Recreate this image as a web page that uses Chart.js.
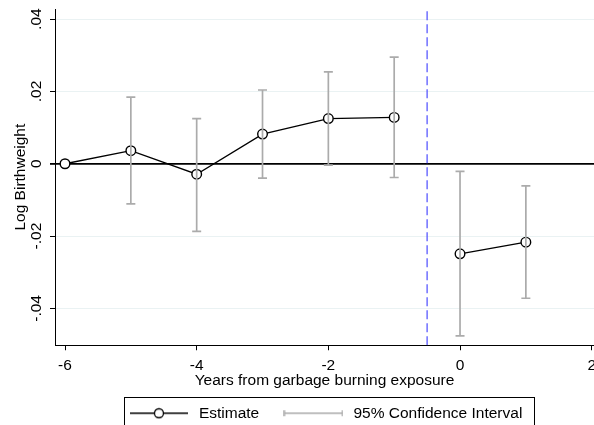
<!DOCTYPE html>
<html>
<head>
<meta charset="utf-8">
<script src="https://cdn.jsdelivr.net/npm/chart.js@4.4.1/dist/chart.umd.min.js"></script>
<style>
  html, body { margin: 0; padding: 0; background: #fff; overflow: hidden; }
  #contenedor { width: 594px; height: 431px; }
</style>
</head>
<body>
<div id="contenedor"><canvas id="grafico"></canvas></div>
<script>
// Datos
const anios = [-6, -5, -4, -3, -2, -1, 0, 1];
const estimacion = [0, 0.0036, -0.0029, 0.0082, 0.0125, 0.0128, -0.0249, -0.0217];
const ciInferior = [null, -0.0111, -0.0187, -0.0040, -0.0004, -0.0038, -0.0476, -0.0372];
const ciSuperior = [null, 0.0184, 0.0125, 0.0204, 0.0254, 0.0295, -0.0021, -0.0061];
const xTicks = [-6, -4, -2, 0, 2];
const yTicks = [-0.04, -0.02, 0, 0.02, 0.04];
const yEtiquetas = ['-.04', '-.02', '0', '.02', '.04'];
const anioEvento = -0.5;

const yMin = -0.0502, yMax = 0.0428;
const gris = '#ababab';

Chart.defaults.font.family = 'Liberation Sans, Arial, sans-serif';
Chart.defaults.font.size = 15.5;
Chart.defaults.color = '#000';

// Serie de estimaciones, cortada en el año del evento
const puntosEstimacion = [];
anios.forEach((a, i) => {
    if (i > 0 && anios[i - 1] < anioEvento && a > anioEvento) {
        puntosEstimacion.push({ x: anioEvento, y: null });
    }
    puntosEstimacion.push({ x: a, y: estimacion[i] });
});

// Intervalos de confianza: un segmento por año
const puntosCI = [];
anios.forEach((a, i) => {
    if (ciInferior[i] === null) return;
    puntosCI.push({ x: a, y: ciInferior[i] });
    puntosCI.push({ x: a, y: ciSuperior[i] });
    puntosCI.push({ x: a, y: null });
});

// Iconos de la leyenda
function iconoEstimacion() {
    const c = document.createElement('canvas');
    c.width = 58; c.height = 12;
    const ctx = c.getContext('2d');
    ctx.strokeStyle = '#000';
    ctx.lineWidth = 1.3;
    ctx.beginPath(); ctx.moveTo(0, 6); ctx.lineTo(58, 6); ctx.stroke();
    ctx.beginPath(); ctx.arc(29, 6, 4.5, 0, Math.PI * 2);
    ctx.fillStyle = '#fff'; ctx.fill(); ctx.stroke();
    return c;
}

function iconoCI() {
    const c = document.createElement('canvas');
    c.width = 60; c.height = 12;
    const ctx = c.getContext('2d');
    ctx.strokeStyle = gris;
    ctx.lineWidth = 1.5;
    ctx.beginPath();
    ctx.moveTo(1, 6); ctx.lineTo(59, 6);
    ctx.moveTo(1, 3); ctx.lineTo(1, 9);
    ctx.moveTo(59, 3); ctx.lineTo(59, 9);
    ctx.stroke();
    return c;
}

// Marco negro alrededor de la leyenda
const marcoLeyenda = {
    id: 'marcoLeyenda',
    afterDraw(chart) {
        const cajas = chart.legend.legendHitBoxes;
        if (!cajas || !cajas.length) return;
        const primero = cajas[0];
        const ultimo = cajas[cajas.length - 1];
        const izq = Math.round(primero.left - 3) + 0.5;
        const der = Math.round(ultimo.left + ultimo.width + 12) + 0.5;
        const arriba = Math.round(primero.top - 8.5) + 0.5;
        const ctx = chart.ctx;
        ctx.save();
        ctx.strokeStyle = '#000';
        ctx.lineWidth = 1;
        ctx.strokeRect(izq, arriba, der - izq, 60);
        ctx.restore();
    }
};

new Chart(document.getElementById('grafico'), {
    type: 'line',
    data: {
        datasets: [{
            label: '95% Confidence Interval',
            data: puntosCI,
            borderColor: gris,
            borderWidth: 1.7,
            pointStyle: 'line',
            pointRadius: 4.5,
            pointBorderColor: gris,
            pointBorderWidth: 1.7,
            spanGaps: false
        }, {
            label: 'Estimate',
            data: puntosEstimacion,
            borderColor: '#000',
            borderWidth: 1.3,
            pointRadius: 4.8,
            pointBackgroundColor: '#fff',
            pointBorderColor: '#000',
            pointBorderWidth: 1.4,
            spanGaps: false
        }, {
            label: 'evento',
            data: [{ x: anioEvento, y: yMin }, { x: anioEvento, y: yMax }],
            borderColor: '#4a4aff',
            borderWidth: 1.2,
            borderDash: [9, 4],
            pointRadius: 0
        }]
    },
    options: {
        responsive: true,
        maintainAspectRatio: false,
        animation: false,
        events: [],
        layout: { autoPadding: false, padding: { left: 10, top: 9, right: 0, bottom: 0 } },
        scales: {
            x: {
                type: 'linear',
                min: -6.152,
                max: 2.035,
                afterBuildTicks: s => { s.ticks = xTicks.map(v => ({ value: v })); },
                afterFit: s => { s.height = 38.25; s.paddingLeft = 0; s.paddingRight = 0; },
                ticks: { autoSkip: false, maxRotation: 0, padding: 6, callback: v => String(v) },
                grid: { drawOnChartArea: false, drawTicks: true, tickLength: 5, tickColor: '#000' },
                border: { color: '#000', width: 1 },
                title: {
                    display: true,
                    text: 'Years from garbage burning exposure',
                    padding: { top: 0, bottom: -6.3 }
                }
            },
            y: {
                type: 'linear',
                min: yMin,
                max: yMax,
                afterBuildTicks: s => { s.ticks = yTicks.map(v => ({ value: v })); },
                afterFit: s => { s.width = 45; s.paddingTop = 0; s.paddingBottom = 0; },
                ticks: {
                    minRotation: 90,
                    maxRotation: 90,
                    crossAlign: 'center',
                    padding: 0,
                    callback: v => yEtiquetas[yTicks.indexOf(v)]
                },
                grid: {
                    color: c => (c.tick && c.tick.value === 0) ? '#000' : '#eaf2f3',
                    lineWidth: c => (c.tick && c.tick.value === 0) ? 1.8 : 1,
                    tickColor: '#000',
                    tickLength: 5
                },
                border: { color: '#000', width: 1 },
                title: {
                    display: true,
                    text: 'Log Birthweight',
                    padding: { top: 1, bottom: 0 }
                }
            }
        },
        plugins: {
            tooltip: { enabled: false },
            legend: {
                position: 'bottom',
                fullSize: false,
                labels: {
                    usePointStyle: true,
                    pointStyleWidth: 64.5,
                    padding: 22,
                    generateLabels: () => [
                        { text: 'Estimate', pointStyle: iconoEstimacion(), fontColor: '#000', hidden: false, lineWidth: 0 },
                        { text: '95% Confidence Interval', pointStyle: iconoCI(), fontColor: '#000', hidden: false, lineWidth: 0 }
                    ]
                }
            }
        }
    },
    plugins: [marcoLeyenda]
});
</script>
</body>
</html>
